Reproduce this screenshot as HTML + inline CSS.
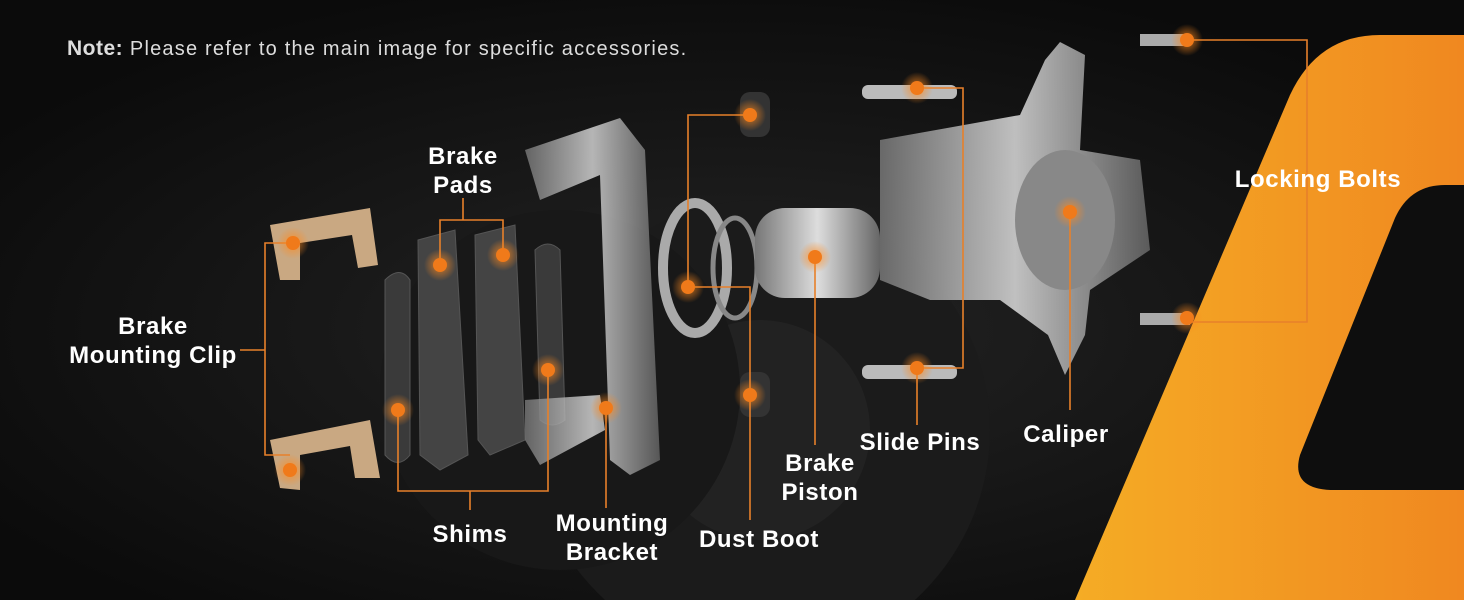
<!DOCTYPE html>
<html><head><meta charset="utf-8"><style>
html,body{margin:0;padding:0;width:1464px;height:600px;overflow:hidden;background:#111;position:relative;}
svg{display:block;}
.t{position:absolute;color:#fff;font-family:"Liberation Sans",sans-serif;font-weight:bold;font-size:24px;letter-spacing:0.6px;text-align:center;line-height:29px;white-space:nowrap;}
</style></head><body>
<svg width="1464" height="600" style="position:absolute;left:0;top:0">
<defs>
<radialGradient id="bg" cx="0.5" cy="0.55" r="0.6"><stop offset="0" stop-color="#242424"/><stop offset="1" stop-color="#0b0b0b"/></radialGradient>
<linearGradient id="or" x1="0" y1="0" x2="1" y2="0"><stop offset="0" stop-color="#f5ac25"/><stop offset="1" stop-color="#f08820"/></linearGradient>
<linearGradient id="met" x1="0" y1="0" x2="1" y2="0"><stop offset="0" stop-color="#777"/><stop offset="0.5" stop-color="#ddd"/><stop offset="1" stop-color="#666"/></linearGradient>
<radialGradient id="glow"><stop offset="0" stop-color="#ff8a1e" stop-opacity="0.8"/><stop offset="1" stop-color="#ff8a1e" stop-opacity="0"/></radialGradient>
</defs>
<rect width="1464" height="600" fill="url(#bg)"/>
<circle cx="760" cy="430" r="230" fill="#1b1b1b"/>
<circle cx="760" cy="430" r="110" fill="#222"/>
<circle cx="560" cy="390" r="180" fill="#181818"/>
<path d="M1075,600 L1290,95 Q1318,35 1380,35 L1464,35 L1464,600 Z" fill="url(#or)"/>
<path d="M1300,455 L1395,218 Q1410,185 1445,185 L1464,185 L1464,490 L1335,490 Q1290,490 1300,455 Z" fill="#0e0e0e"/>
<g fill="#c9a882"><path d="M270,225 L370,208 L378,265 L358,268 L352,235 L300,243 L300,280 L280,280 Z"/><path d="M270,440 L370,420 L380,478 L355,478 L350,446 L300,455 L300,490 L280,488 Z"/></g>
<g fill="#3a3a3a" stroke="#555"><path d="M385,280 Q400,265 410,280 L410,455 Q398,470 385,455 Z"/><path d="M418,240 L455,230 L468,455 L440,470 L420,455 Z" fill="#444"/><path d="M475,235 L515,225 L525,440 L490,455 L478,440 Z" fill="#444"/><path d="M535,250 Q548,238 560,250 L565,420 Q552,430 540,420 Z"/></g>
<path d="M525,150 L620,118 L645,150 L660,460 L630,475 L610,460 L600,175 L540,200 Z M525,400 L600,395 L605,430 L540,465 L525,440 Z" fill="url(#met)" opacity="0.8"/>
<ellipse cx="695" cy="268" rx="32" ry="65" fill="none" stroke="#aaa" stroke-width="10"/>
<ellipse cx="735" cy="268" rx="22" ry="50" fill="none" stroke="#888" stroke-width="5"/>
<rect x="755" y="208" width="125" height="90" rx="30" fill="url(#met)"/>
<rect x="740" y="92" width="30" height="45" rx="10" fill="#333"/><rect x="740" y="372" width="30" height="45" rx="10" fill="#333"/>
<path d="M880,140 L1020,115 L1045,60 L1060,42 L1085,55 L1080,150 L1140,160 L1150,250 L1090,290 L1085,335 L1065,375 L1048,335 L1000,300 L930,300 L880,280 Z" fill="url(#met)" opacity="0.85"/>
<ellipse cx="1065" cy="220" rx="50" ry="70" fill="#888"/>
<rect x="862" y="85" width="95" height="14" rx="6" fill="#bbb"/><rect x="862" y="365" width="95" height="14" rx="6" fill="#bbb"/>
<rect x="1140" y="34" width="50" height="12" fill="#aaa"/><rect x="1140" y="313" width="50" height="12" fill="#aaa"/>
<g stroke="#e7802a" stroke-width="1.6" fill="none">
<path d="M293,243 H265 V455 H290"/><path d="M240,350 H265"/>
<path d="M463,198 V220 M440,265 V220 H503 V255"/>
<path d="M398,410 V491 H548 V370 M470,491 V510"/>
<path d="M606,408 V508"/>
<path d="M750,115 H688 V287 H750 V520"/>
<path d="M815,257 V445"/>
<path d="M917,88 H963 V368 H917 V425"/>
<path d="M1070,212 V410"/>
<path d="M1187,40 H1307 V322 H1187"/>
</g>
<g fill="url(#glow)">
<circle cx="293" cy="243" r="16"/><circle cx="290" cy="470" r="16"/><circle cx="440" cy="265" r="16"/><circle cx="503" cy="255" r="16"/><circle cx="398" cy="410" r="16"/><circle cx="548" cy="370" r="16"/><circle cx="606" cy="408" r="16"/><circle cx="688" cy="287" r="16"/><circle cx="750" cy="115" r="16"/><circle cx="750" cy="395" r="16"/><circle cx="815" cy="257" r="16"/><circle cx="917" cy="88" r="16"/><circle cx="917" cy="368" r="16"/><circle cx="1070" cy="212" r="16"/><circle cx="1187" cy="40" r="16"/><circle cx="1187" cy="318" r="16"/>
</g>
<g fill="#f07a1a">
<circle cx="293" cy="243" r="7"/><circle cx="290" cy="470" r="7"/><circle cx="440" cy="265" r="7"/><circle cx="503" cy="255" r="7"/><circle cx="398" cy="410" r="7"/><circle cx="548" cy="370" r="7"/><circle cx="606" cy="408" r="7"/><circle cx="688" cy="287" r="7"/><circle cx="750" cy="115" r="7"/><circle cx="750" cy="395" r="7"/><circle cx="815" cy="257" r="7"/><circle cx="917" cy="88" r="7"/><circle cx="917" cy="368" r="7"/><circle cx="1070" cy="212" r="7"/><circle cx="1187" cy="40" r="7"/><circle cx="1187" cy="318" r="7"/>
</g>
</svg>
<div style="position:absolute;left:67px;top:37px;color:#ddd;font-family:'Liberation Sans',sans-serif;font-size:20px;letter-spacing:1.2px;white-space:nowrap;"><b style="font-size:21px;letter-spacing:0.5px">Note:</b> Please refer to the main image for specific accessories.</div>
<div class="t" style="left:393px;top:142px;width:140px">Brake<br>Pads</div>
<div class="t" style="left:43px;top:312px;width:220px">Brake<br>Mounting Clip</div>
<div class="t" style="left:410px;top:520px;width:120px">Shims</div>
<div class="t" style="left:532px;top:509px;width:160px">Mounting<br>Bracket</div>
<div class="t" style="left:685px;top:525px;width:148px">Dust Boot</div>
<div class="t" style="left:760px;top:449px;width:120px">Brake<br>Piston</div>
<div class="t" style="left:845px;top:428px;width:150px">Slide Pins</div>
<div class="t" style="left:1000px;top:420px;width:132px">Caliper</div>
<div class="t" style="left:1218px;top:165px;width:200px">Locking Bolts</div>
</body></html>
